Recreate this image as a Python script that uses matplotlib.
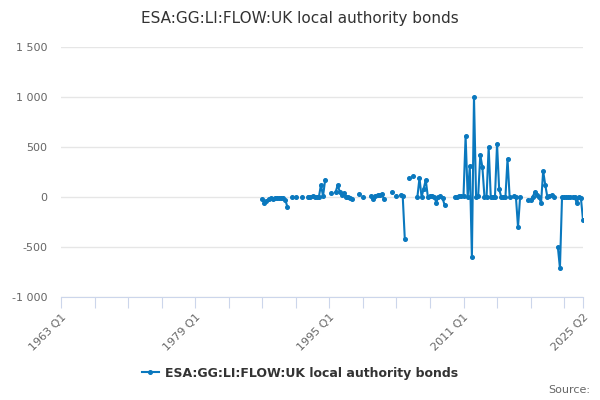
import numpy as np
import matplotlib
matplotlib.use("Agg")
import matplotlib.pyplot as plt

# quarterly categories 1963 Q1 .. 2025 Q2
first_year = 1963
n_quarters = 250
quarters = [f"{first_year + i // 4} Q{i % 4 + 1}" for i in range(n_quarters)]

# values start at 1987 Q1 (index 96); None = no data
start_idx = 96
values = [
    -20, -55, -40, -20, -10, -15, -10, -5, -10, -5, -5, -30, -100,   # 96-108
    None, 0, None, 0, None, None, 0, None, None,                     # 109-117
    5, 5, 10, 0, 5, 0, 120, 10, 170,                                 # 118-126
    None, None, 40, None,                                            # 127-130
    50, 120, 50, 20, 40, 5, 0, -13, -20,                             # 131-139
    None, None, 35, None, 5, None, None, None,                       # 140-147
    10, -20, 10, 20, 25, 30, -15,                                    # 148-154
    None, None, None, 55, None, 10, None,                            # 155-161
    20, 10, -420, None, 190, None, 215, None,                        # 162-169
    0, 190, 0, 85, 170, 0, 10, 13, 3, -55, 0, 10, -13, -80,          # 170-183
    None, None, None, None,                                          # 184-187
    0, 5, 10, 10, 10, 610, 0, 310, -600, 1000, 0, 10, 420, 300,      # 188-201
    0, 0, 500, 0, 0, 0, 530, 80, 0, 0, 0, 380, 0,                    # 202-214
    None, 10, 0, -300, 0, None, None, None,                          # 215-222
    -30, -30, 0, 50, 20, 0, -60, 260, 120, 0, 10, 20, 0,             # 223-235
    None, -500, -710, 0, 0, 0, 0, 0, 0, 0, -60, 0, -10, -230,        # 236-249
]
series_name = "ESA:GG:LI:FLOW:UK local authority bonds"

y_ticks = [-1000, -500, 0, 500, 1000, 1500]
x_label_idx = [0, 64, 128, 192, 249]

line_color = "#0a78be"

x = np.arange(start_idx, start_idx + len(values))
y = np.array([np.nan if v is None else v for v in values], dtype=float)

fig = plt.figure(figsize=(6, 4), dpi=100)
ax = fig.add_axes([61 / 600, 1 - 297 / 400, 522 / 600, 250 / 400])

ax.plot(x, y, color=line_color, lw=1.5, marker="o", ms=2.6, zorder=3)

ax.set_xlim(0, n_quarters - 1)
ax.set_ylim(-1000, 1500)

for s in ["top", "right", "left"]:
    ax.spines[s].set_visible(False)
ax.spines["bottom"].set_color("#ccd6eb")

ax.set_yticks(y_ticks)
ax.set_yticklabels([f"{v:,}".replace(",", " ") for v in y_ticks],
                   fontsize=8, color="#666666")
ax.tick_params(axis="y", length=0, pad=10)
ax.grid(axis="y", color="#e6e6e6", lw=1)
ax.set_axisbelow(True)

xt = list(range(0, n_quarters, 16)) + [n_quarters - 1]
ax.set_xticks(xt)
ax.set_xticklabels([quarters[i] if i in x_label_idx else "" for i in xt],
                   rotation=45, ha="right", rotation_mode="anchor",
                   fontsize=8, color="#666666")
ax.tick_params(axis="x", length=8, color="#ccd6eb", pad=3)

fig.text(0.5, 0.955, series_name, ha="center", va="center",
         fontsize=11, color="#333333")

# legend
leg = ax.legend([series_name], loc="center", bbox_to_anchor=(0.5, 1 - 373 / 400),
                bbox_transform=fig.transFigure, frameon=False,
                prop={"size": 9, "weight": "bold"}, handlelength=1.4,
                handletextpad=0.5)
for t in leg.get_texts():
    t.set_color("#333333")

fig.text(0.983, 1 - 390 / 400, "Source:", ha="right", va="center",
         fontsize=8, color="#666666")

fig.savefig("out.png", dpi=100)
